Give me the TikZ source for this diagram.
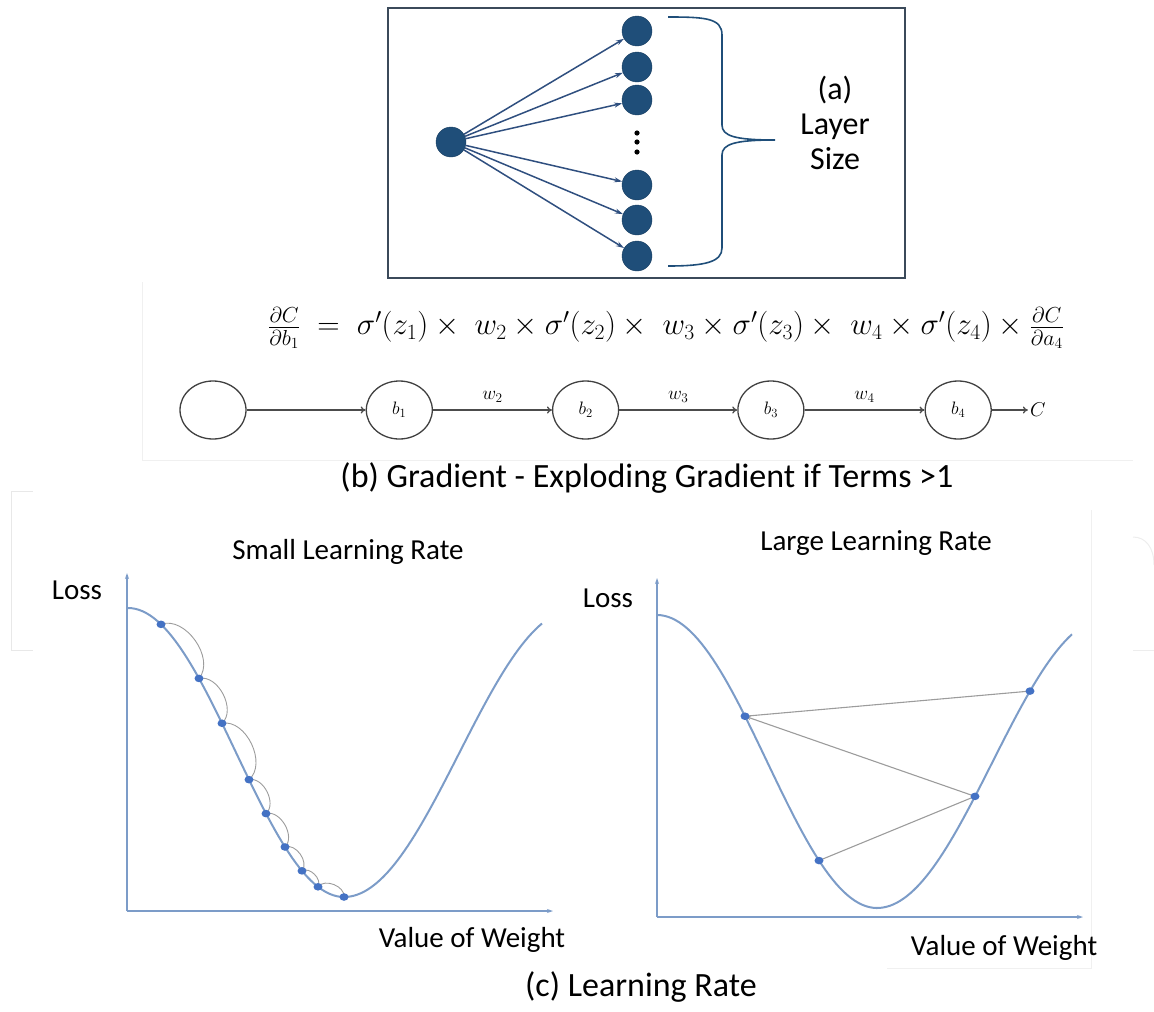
\RequirePackage{fix-cm}
\documentclass[tikz,border=0pt]{standalone}
\usepackage[no-math]{fontspec}
\setmainfont{Carlito}
\usetikzlibrary{arrows.meta,positioning,calc,shapes.geometric}
\definecolor{unitnavy}{HTML}{1F4E79}
\definecolor{fanblue}{HTML}{2F4F7F}
\definecolor{boxgray}{HTML}{3B4A5A}
\definecolor{lossblue}{HTML}{7C9CC8}
\definecolor{stepblue}{HTML}{4472C4}
\definecolor{hopgray}{HTML}{9C9C9C}

\begin{document}
\begin{tikzpicture}[x=1pt,y=-1pt,font=\fontsize{29}{32}\selectfont,
  unit/.style={circle,fill=unitnavy,draw=unitnavy!80!black,minimum size=30pt,inner sep=0pt},
  fanarrow/.style={-{Stealth[length=8pt,width=5pt]},fanblue,line width=1.5pt},
  chainnode/.style={ellipse,draw=black!75,line width=1.3pt,minimum width=66pt,minimum height=58pt,inner sep=0pt,font=\fontsize{18}{19}\selectfont},
  chainarrow/.style={-{To[length=5pt,width=7pt]},draw=black!70,line width=1.3pt},
  wlabel/.style={above=4pt,font=\fontsize{19}{20}\selectfont},
  axisline/.style={-{Stealth[length=6pt,width=4pt]},lossblue,line width=1.6pt},
  losscurve/.style={lossblue,line width=2pt},
  hop/.style={hopgray,line width=0.9pt},
  jump/.style={hopgray,line width=1.1pt}]
\useasboundingbox (0,0) rectangle (1154,1012);

% faint leftovers of the source screenshots
\draw[black!9,line width=1pt] (33,491) -- (11,491) -- (11,650) -- (33,650);
\draw[black!6,line width=1pt] (1091,510) -- (1091,968) -- (887,968);
\draw[black!7,line width=1pt] (1133,537) .. controls (1146,537) and (1154,548) .. (1154,565);
\draw[black!7,line width=1pt] (1133,650) -- (1154,650);
\draw[black!6,line width=1pt] (142,282) -- (142,460) -- (1133,460);

% (a) layer size
\draw[boxgray,line width=1.6pt] (388,8) rectangle (905,278);
\node[unit] (in) at (451,142) {};
\foreach \n/\y in {1/31,2/67,3/100,4/185,5/220,6/256}{
  \node[unit] (out\n) at (637,\y) {};
  \draw[fanarrow] (in) -- (out\n);
}
\foreach \y in {133,142,152}
  \fill (637,\y) circle (2.6pt);
\draw[unitnavy,line width=1.6pt] (668,17) .. controls (705,17) and (722,18) .. (722,35)
  -- (722,125) .. controls (722,136) and (735,140) .. (775,140)
  .. controls (735,140) and (722,144) .. (722,155)
  -- (722,248) .. controls (722,262) and (705,266) .. (668,266);
\node[align=center,font=\fontsize{32}{35}\selectfont] (sizelbl) at (835,123) {(a)\\Layer\\Size};

% (b) gradient chain
\node[font=\fontsize{31}{33}\selectfont] (grad) at (666,328)
  {$\frac{\partial C}{\partial b_1} \;=\; \sigma'(z_1)\times\; w_2\times\sigma'(z_2)\times\; w_3\times\sigma'(z_3)\times\; w_4\times\sigma'(z_4)\times\frac{\partial C}{\partial a_4}$};
\node[chainnode] (c0) at (213,410) {};
\node[chainnode,right=119pt of c0] (b1) {$b_1$};
\node[chainnode,right=119pt of b1] (b2) {$b_2$};
\node[chainnode,right=118pt of b2] (b3) {$b_3$};
\node[chainnode,right=120pt of b3] (b4) {$b_4$};
\node[right=36pt of b4,inner sep=2pt,font=\fontsize{20}{21}\selectfont] (cost) {$C$};
\draw[chainarrow] (c0) -- (b1);
\draw[chainarrow] (b1) -- node[wlabel]{$w_2$} (b2);
\draw[chainarrow] (b2) -- node[wlabel]{$w_3$} (b3);
\draw[chainarrow] (b3) -- node[wlabel]{$w_4$} (b4);
\draw[chainarrow] (b4) -- (cost);
\node[font=\fontsize{34}{36}\selectfont] (capb) at (647,478) {(b) Gradient - Exploding Gradient if Terms >1};

% (c) small learning rate
\node (tsmall) at (348,552) {Small Learning Rate};
\coordinate (o1) at (127,911);
\draw[axisline] (o1) -- (127,573);
\draw[axisline] (o1) -- (553,911);
\node (loss1) at (77,590) {Loss};
\node (val1) at (472,940) {Value of Weight};
\draw[losscurve] plot[domain=128:344,samples=60] (\x,{608+144.5*(1-cos((\x-128)/216*180))})
  -- plot[domain=344:542,samples=60] (\x,{897-143.5*(1-cos((\x-344)/230*180))});
\foreach \n/\x in {1/161,2/199,3/222,4/249,5/266,6/285,7/302,8/318,9/344}
  \coordinate (s\n) at (\x,{608+144.5*(1-cos((\x-128)/216*180))});
\foreach \a/\b in {1/2,2/3,3/4,4/5,5/6,6/7,7/8,8/9}
  \draw[hop] (s\a) to[bend left=75] (s\b);
\foreach \n in {1,...,9}
  \fill[stepblue] (s\n) ellipse (4.5 and 3.8);

% (c) large learning rate
\node (tlarge) at (876,543) {Large Learning Rate};
\coordinate (o2) at (657,917);
\draw[axisline] (o2) -- (657,578);
\draw[axisline] (o2) -- (1083,917);
\node (loss2) at (608,598) {Loss};
\node (val2) at (1004,948) {Value of Weight};
\draw[losscurve] plot[domain=657:877,samples=60] (\x,{615+146.5*(1-cos((\x-657)/220*180))})
  -- plot[domain=877:1072,samples=60] (\x,{908-145*(1-cos((\x-877)/230*180))});
\coordinate (bigA) at (745,{615+146.5*(1-cos((745-657)/220*180))});
\coordinate (bigL) at (819,{615+146.5*(1-cos((819-657)/220*180))});
\coordinate (bigM) at (975,{908-145*(1-cos((975-877)/230*180))});
\coordinate (bigR) at (1030,{908-145*(1-cos((1030-877)/230*180))});
\draw[jump] (bigL) -- (bigM);
\draw[jump,-{Stealth[length=6pt,width=4pt]}] (bigM) -- (bigA);
\draw[jump] (bigA) -- (bigR);
\foreach \c in {bigA,bigL,bigM,bigR}
  \fill[stepblue] (\c) ellipse (4.5 and 3.8);
\node[font=\fontsize{34}{36}\selectfont] (capc) at (641,987) {(c) Learning Rate};
\end{tikzpicture}
\end{document}
